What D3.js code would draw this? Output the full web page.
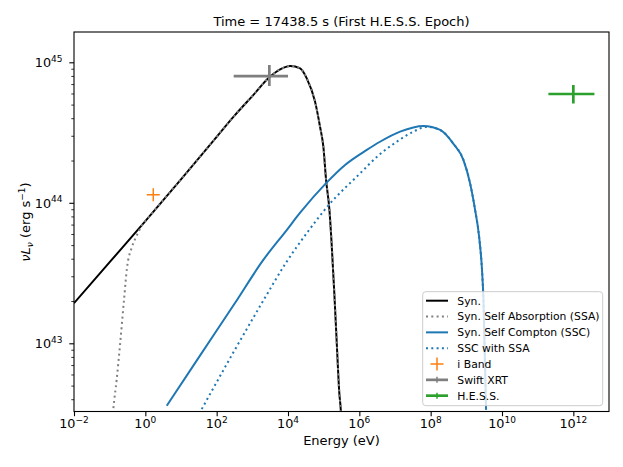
<!DOCTYPE html>
<html>
<head>
<meta charset="utf-8">
<script src="https://cdn.jsdelivr.net/npm/d3@7"></script>
<style>
  body { margin: 0; background: #fff; }
  svg { font-family: "DejaVu Sans", sans-serif; }
</style>
</head>
<body>
<svg id="chart" width="623" height="467"></svg>
<script>
// Synchrotron model (energy in eV, nuL_nu in erg/s)
const synE = [1e-2, 1e-1, 1, 10, 100, 316, 1e3, 3.16e3, 6.03e3, 1.15e4, 2.19e4, 3.36e4, 5.73e4,
              7.91e4, 9.8e4, 1.17e5, 1.45e5, 1.67e5, 1.99e5, 2.33e5, 2.75e5, 3.02e5, 3.3e5];
const synL = [1.93e43, 3.78e43, 7.4e43, 1.47e44, 2.95e44, 4.17e44, 5.75e44, 7.91e44, 8.91e44, 9.42e44, 9.06e44, 7.69e44, 5.25e44,
              3.48e44, 2.51e44, 1.45e44, 8.91e43, 5.15e43, 2.27e43, 1.0e43, 4.4e42, 3.35e42, 2.0e42];

// Self absorbed part below ~1 eV (joins the synchrotron curve above)
const ssaE = [0.12, 0.126, 0.157, 0.195, 0.252, 0.306, 0.415, 0.513, 0.635, 0.794];
const ssaL = [2.9e42, 3.36e42, 5.5e42, 9.73e42, 2.03e43, 3.44e43, 4.79e43, 5.5e43, 6.17e43, 6.9e43];

// Synchrotron self Compton
const sscE = [3.98, 31.6, 316, 2.03e3, 9.2e3, 2.19e4, 1.17e5, 3.98e5, 1.62e6, 3.8e6, 1.39e7, 6.3e7,
              1.84e8, 4.35e8, 8.28e8, 1.27e9, 1.76e9, 2.28e9, 2.75e9, 3.0e9, 3.58e9];
const sscL = [3.59e42, 7.94e42, 1.91e43, 3.92e43, 6.4e43, 8.5e43, 1.38e44, 1.86e44, 2.38e44, 2.72e44, 3.21e44, 3.52e44,
              3.3e44, 2.63e44, 2.02e44, 1.38e44, 8.91e43, 5.75e43, 3.33e43, 2.14e43, 3.36e42];

// SSC with SSA (joins the SSC curve past the peak)
const sscSsaE = [38.1, 316, 2.0e3, 9.12e3, 3.72e4, 1.29e5, 1.05e6, 3.55e6, 1.12e7, 3.27e7, 7.76e7];
const sscSsaL = [3.4e42, 8.9e42, 2.0e43, 3.8e43, 6.3e43, 9.44e43, 1.62e44, 2.19e44, 2.72e44, 3.21e44, 3.47e44];

// Observations
const iBand = { e: 1.67, l: 1.14e44 };
const xrt = { e: 3.0e3, eLo: 3.0e2, eHi: 1.0e4, l: 7.98e44, lLo: 6.78e44, lHi: 9.57e44 };
const hess = { e: 1.0e12, eLo: 2.0e11, eHi: 3.9e12, l: 5.95e44, lLo: 5.1e44, lHi: 6.89e44 };

const xTicks = [-2, 0, 2, 4, 6, 8, 10, 12];
const yTicks = [43, 44, 45];

const title = "Time = 17438.5 s (First H.E.S.S. Epoch)";
const legendLabels = ["Syn.", "Syn. Self Absorption (SSA)", "Syn. Self Compton (SSC)", "SSC with SSA",
                      "i Band", "Swift XRT", "H.E.S.S."];

const svg = d3.select("#chart");
const mLeft = 74, mRight = 609, mTop = 32, mBottom = 411.5;

const x = d3.scaleLog().domain([1e-2, 1e13]).range([mLeft, mRight]);
const y = d3.scaleLog().domain([Math.pow(10, 42.5146), Math.pow(10, 45.2157)]).range([mBottom, mTop]);

svg.append("clipPath").attr("id", "plotclip")
  .append("rect").attr("x", mLeft).attr("y", mTop).attr("width", mRight - mLeft).attr("height", mBottom - mTop);

const plot = svg.append("g").attr("clip-path", "url(#plotclip)");

const line = d3.line()
  .x(d => x(d[0]))
  .y(d => y(d[1]))
  .curve(d3.curveMonotoneX);

const synPts = synE.map((e, i) => [e, synL[i]]);
const ssaPts = ssaE.map((e, i) => [e, ssaL[i]]).concat(synPts.filter(d => d[0] >= 1));
const sscPts = sscE.map((e, i) => [e, sscL[i]]);
const sscSsaPts = sscSsaE.map((e, i) => [e, sscSsaL[i]])
  .concat(sscPts.filter(d => d[0] > sscSsaE[sscSsaE.length - 1]));

const dots = "2,3.3";
plot.append("path").attr("d", line(synPts)).attr("fill", "none").attr("stroke", "#000").attr("stroke-width", 2);
plot.append("path").attr("d", line(ssaPts)).attr("fill", "none").attr("stroke", "#808080")
  .attr("stroke-width", 2).attr("stroke-dasharray", dots);
plot.append("path").attr("d", line(sscPts)).attr("fill", "none").attr("stroke", "#1f77b4").attr("stroke-width", 2);
plot.append("path").attr("d", line(sscSsaPts)).attr("fill", "none").attr("stroke", "#1f77b4")
  .attr("stroke-width", 2).attr("stroke-dasharray", dots);

// i band marker
const cx = x(iBand.e), cy = y(iBand.l);
plot.append("path").attr("d", `M${cx - 6.5},${cy}H${cx + 6.5}M${cx},${cy - 6.5}V${cy + 6.5}`)
  .attr("stroke", "#ff7f0e").attr("stroke-width", 1.5);

// error bars
[[xrt, "#7f7f7f"], [hess, "#2ca02c"]].forEach(([p, c]) => {
  plot.append("line").attr("x1", x(p.eLo)).attr("x2", x(p.eHi)).attr("y1", y(p.l)).attr("y2", y(p.l))
    .attr("stroke", c).attr("stroke-width", 2.7);
  plot.append("line").attr("x1", x(p.e)).attr("x2", x(p.e)).attr("y1", y(p.lLo)).attr("y2", y(p.lHi))
    .attr("stroke", c).attr("stroke-width", 2.7);
});

// axes
const xAxis = svg.append("g").attr("transform", `translate(0,${mBottom})`)
  .call(d3.axisBottom(x).tickValues(xTicks.map(k => Math.pow(10, k))).tickSize(4.7).tickFormat(() => ""));
xAxis.select(".domain").remove();
xAxis.selectAll("line").attr("stroke-width", 1.1);

const minors = [];
for (let k = 42; k <= 45; k++) for (let m = 2; m <= 9; m++) {
  const v = m * Math.pow(10, k);
  if (v > y.domain()[0] && v < y.domain()[1]) minors.push(v);
}
const yAxis = svg.append("g").attr("transform", `translate(${mLeft},0)`)
  .call(d3.axisLeft(y).tickValues(yTicks.map(k => Math.pow(10, k))).tickSize(4.7).tickFormat(() => ""));
yAxis.select(".domain").remove();
yAxis.selectAll("line").attr("stroke-width", 1.1);
const yMinor = svg.append("g").attr("transform", `translate(${mLeft},0)`)
  .call(d3.axisLeft(y).tickValues(minors).tickSize(2.7).tickFormat(() => ""));
yMinor.select(".domain").remove();
yMinor.selectAll("line").attr("stroke-width", 0.8);

xTicks.forEach(k => {
  const t = svg.append("text").attr("x", x(Math.pow(10, k))).attr("y", 428)
    .attr("text-anchor", "middle").attr("font-size", 12.8).attr("fill", "#000");
  t.append("tspan").text("10");
  t.append("tspan").attr("dy", -5.5).attr("font-size", 9).text(k < 0 ? "\u2212" + (-k) : k);
});
yTicks.forEach(k => {
  const t = svg.append("text").attr("x", 62.5).attr("y", y(Math.pow(10, k)) + 5)
    .attr("text-anchor", "end").attr("font-size", 12.8).attr("fill", "#000");
  t.append("tspan").text("10");
  t.append("tspan").attr("dy", -5.5).attr("font-size", 9).text(k);
});

svg.append("rect").attr("x", mLeft).attr("y", mTop).attr("width", mRight - mLeft).attr("height", mBottom - mTop)
  .attr("fill", "none").attr("stroke", "#000").attr("stroke-width", 1.1);

svg.append("text").attr("x", (mLeft + mRight) / 2).attr("y", 26).attr("text-anchor", "middle")
  .attr("font-size", 13).text(title);
svg.append("text").attr("x", (mLeft + mRight) / 2).attr("y", 445).attr("text-anchor", "middle")
  .attr("font-size", 13).text("Energy (eV)");

const yl = svg.append("text").attr("transform", `translate(30,222) rotate(-90)`)
  .attr("text-anchor", "middle").attr("font-size", 13);
yl.append("tspan").attr("font-style", "italic").text("\u03bdL");
yl.append("tspan").attr("font-style", "italic").attr("font-size", 9).attr("dy", 3).text("\u03bd");
yl.append("tspan").attr("dy", -3).text(" (erg s");
yl.append("tspan").attr("font-size", 9).attr("dy", -5).text("\u22121");
yl.append("tspan").attr("dy", 5).text(")");

// legend
const lg = svg.append("g");
lg.append("rect").attr("x", 422.7).attr("y", 291.7).attr("width", 180).attr("height", 114).attr("rx", 3)
  .attr("fill", "#fff").attr("fill-opacity", 0.8).attr("stroke", "#cccccc").attr("stroke-width", 1);
const styles = [
  { c: "#000", d: null }, { c: "#808080", d: dots }, { c: "#1f77b4", d: null }, { c: "#1f77b4", d: dots },
  { c: "#ff7f0e", m: "plus" }, { c: "#7f7f7f", m: "err" }, { c: "#2ca02c", m: "err" }
];
legendLabels.forEach((lab, i) => {
  const ry = 300.7 + i * 15.83;
  const s = styles[i];
  if (s.m === "plus") {
    lg.append("path").attr("d", `M430.5,${ry}H443.5M437,${ry - 6.5}V${ry + 6.5}`)
      .attr("stroke", s.c).attr("stroke-width", 1.5);
  } else if (s.m === "err") {
    lg.append("line").attr("x1", 426).attr("x2", 448).attr("y1", ry).attr("y2", ry)
      .attr("stroke", s.c).attr("stroke-width", 2.7);
    lg.append("line").attr("x1", 437).attr("x2", 437).attr("y1", ry - 3).attr("y2", ry + 3)
      .attr("stroke", s.c).attr("stroke-width", 1.5);
  } else {
    lg.append("line").attr("x1", 426).attr("x2", 448).attr("y1", ry).attr("y2", ry)
      .attr("stroke", s.c).attr("stroke-width", 2).attr("stroke-dasharray", s.d);
  }
  lg.append("text").attr("x", 457.3).attr("y", ry + 3.9).attr("font-size", 10.8).text(lab);
});
</script>
</body>
</html>
